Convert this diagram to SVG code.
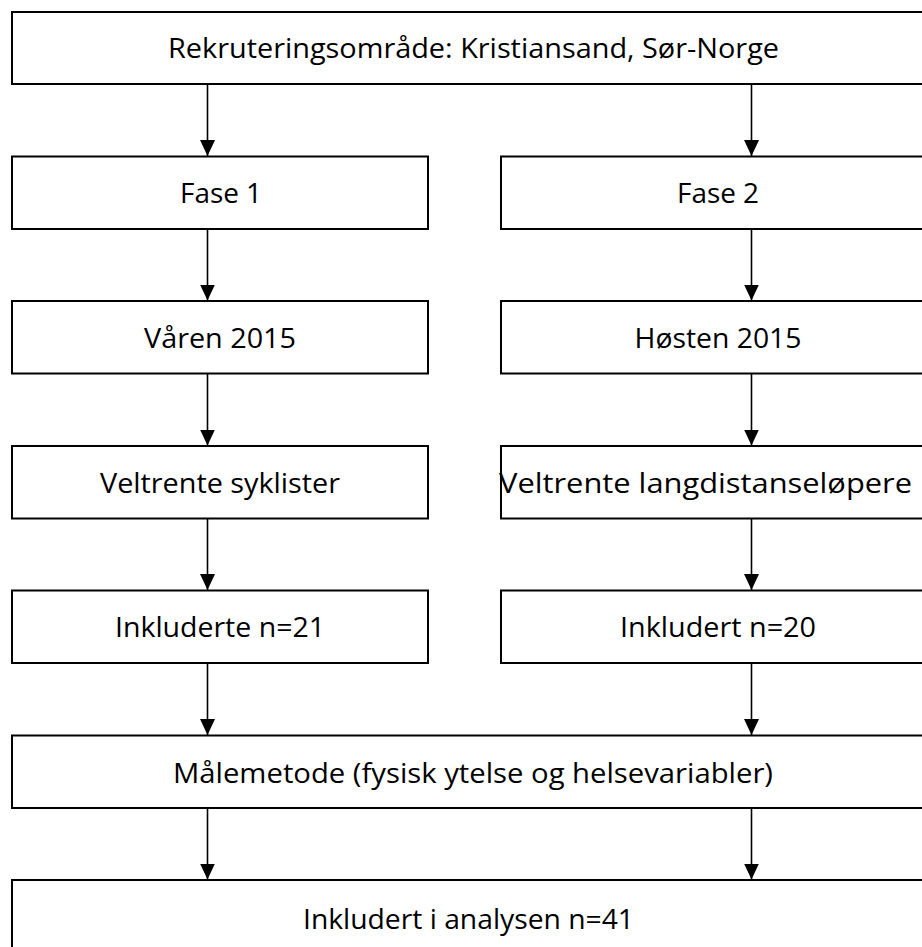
<svg xmlns="http://www.w3.org/2000/svg" width="922" height="947" viewBox="0 0 922 947">
  <style>
    .box { fill: #ffffff; stroke: #000000; stroke-width: 2; }
    .lbl { font-family: "Open Sans", "Liberation Sans", sans-serif; font-size: 28px; fill: #000000; text-anchor: middle; }
    .conn { stroke: #000000; stroke-width: 1.6; fill: none; marker-end: url(#arrow); }
  </style>
  <defs>
    <!-- filled triangular arrowhead, tip at the line end -->
    <marker id="arrow" viewBox="0 0 16 15" refX="16" refY="7.5" markerWidth="16" markerHeight="15" markerUnits="userSpaceOnUse" orient="auto">
      <path d="M0,0 L16,7.5 L0,15 Z" fill="#000000"/>
    </marker>
  </defs>
  <rect width="922" height="947" fill="#ffffff"/>

  <g id="connectors">
    <line class="conn" x1="207.5" y1="85" x2="207.5" y2="156"/>
    <line class="conn" x1="751.5" y1="85" x2="751.5" y2="156"/>
    <line class="conn" x1="207.5" y1="230" x2="207.5" y2="300.5"/>
    <line class="conn" x1="751.5" y1="230" x2="751.5" y2="300.5"/>
    <line class="conn" x1="207.5" y1="374" x2="207.5" y2="445.5"/>
    <line class="conn" x1="751.5" y1="374" x2="751.5" y2="445.5"/>
    <line class="conn" x1="207.5" y1="519" x2="207.5" y2="590"/>
    <line class="conn" x1="751.5" y1="519" x2="751.5" y2="590"/>
    <line class="conn" x1="207.5" y1="663" x2="207.5" y2="735"/>
    <line class="conn" x1="751.5" y1="663" x2="751.5" y2="735"/>
    <line class="conn" x1="207.5" y1="808" x2="207.5" y2="879.5"/>
    <line class="conn" x1="751.5" y1="808" x2="751.5" y2="879.5"/>
  </g>

  <g id="rekruteringsomrade">
    <rect class="box" x="12" y="12" width="923" height="72"/>
    <text class="lbl" x="473.5" y="58" textLength="611" lengthAdjust="spacingAndGlyphs">Rekruteringsområde: Kristiansand, Sør-Norge</text>
  </g>

  <g id="fase1">
    <rect class="box" x="12" y="156.5" width="416" height="72.5"/>
    <text class="lbl" x="221" y="203" textLength="82" lengthAdjust="spacingAndGlyphs">Fase 1</text>
  </g>
  <g id="fase2">
    <rect class="box" x="501" y="156.5" width="434" height="72.5"/>
    <text class="lbl" x="718" y="203" textLength="82" lengthAdjust="spacingAndGlyphs">Fase 2</text>
  </g>

  <g id="varen2015">
    <rect class="box" x="12" y="301" width="416" height="72.5"/>
    <text class="lbl" x="220" y="347.5" textLength="152" lengthAdjust="spacingAndGlyphs">Våren 2015</text>
  </g>
  <g id="hosten2015">
    <rect class="box" x="501" y="301" width="434" height="72.5"/>
    <text class="lbl" x="718" y="347.5" textLength="167" lengthAdjust="spacingAndGlyphs">Høsten 2015</text>
  </g>

  <g id="syklister">
    <rect class="box" x="12" y="446" width="416" height="72.5"/>
    <text class="lbl" x="220" y="492.5" textLength="240" lengthAdjust="spacingAndGlyphs">Veltrente syklister</text>
  </g>
  <g id="lopere">
    <rect class="box" x="501" y="446" width="434" height="72.5"/>
    <text class="lbl" x="499" y="492.5" style="text-anchor:start" textLength="413" lengthAdjust="spacingAndGlyphs">Veltrente langdistanseløpere</text>
  </g>

  <g id="inkluderte21">
    <rect class="box" x="12" y="590.5" width="416" height="72.5"/>
    <text class="lbl" x="220" y="637" textLength="210" lengthAdjust="spacingAndGlyphs">Inkluderte n=21</text>
  </g>
  <g id="inkludert20">
    <rect class="box" x="501" y="590.5" width="434" height="72.5"/>
    <text class="lbl" x="718" y="637" textLength="196" lengthAdjust="spacingAndGlyphs">Inkludert n=20</text>
  </g>

  <g id="malemetode">
    <rect class="box" x="12" y="735.5" width="923" height="72.5"/>
    <text class="lbl" x="473" y="783" textLength="600" lengthAdjust="spacingAndGlyphs">Målemetode (fysisk ytelse og helsevariabler)</text>
  </g>

  <g id="analyse">
    <rect class="box" x="12" y="880" width="923" height="80"/>
    <text class="lbl" x="468.5" y="929" textLength="331" lengthAdjust="spacingAndGlyphs">Inkludert i analysen n=41</text>
  </g>
</svg>
